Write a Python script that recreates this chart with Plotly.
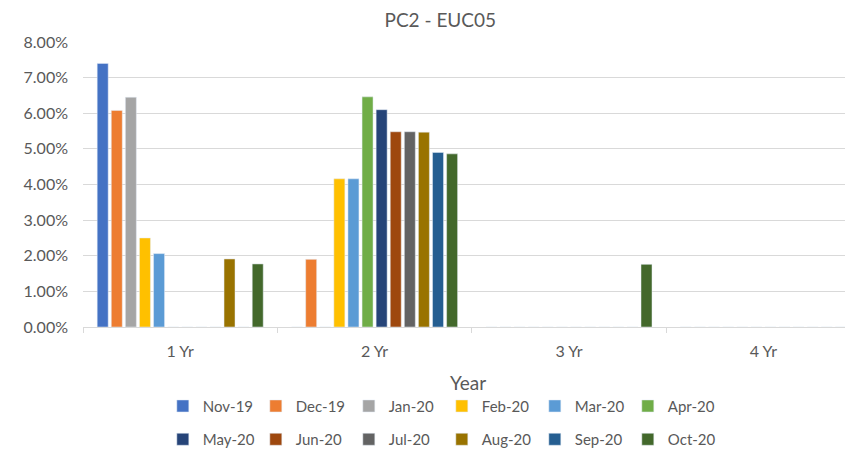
import plotly.graph_objects as go

years = ["1 Yr", "2 Yr", "3 Yr", "4 Yr"]
months = ["Nov-19", "Dec-19", "Jan-20", "Feb-20", "Mar-20", "Apr-20",
          "May-20", "Jun-20", "Jul-20", "Aug-20", "Sep-20", "Oct-20"]

# values per tenor, one per month (fractions)
yr1 = [0.0740, 0.0608, 0.0645, 0.0250, 0.0206, 0, 0, 0, 0, 0.0191, 0, 0.0177]
yr2 = [0, 0.0190, 0, 0.0416, 0.0416, 0.0646, 0.0610, 0.0548, 0.0548, 0.0547, 0.0490, 0.0486]
yr3 = [0, 0, 0, 0, 0, 0, 0, 0, 0, 0, 0, 0.0176]
yr4 = [0, 0, 0, 0, 0, 0, 0, 0, 0, 0, 0, 0]

colors = ["#4472C4", "#ED7D31", "#A5A5A5", "#FFC000", "#5B9BD5", "#70AD47",
          "#264478", "#9E480E", "#636363", "#997300", "#255E91", "#43682B"]

grey = "#595959"
font = "Lato, Calibri, Arial, sans-serif"

fig = go.Figure()
for i, m in enumerate(months):
    fig.add_trace(go.Bar(
        x=years,
        y=[yr1[i], yr2[i], yr3[i], yr4[i]],
        name=m,
        marker_color=colors[i],
        legend="legend" if i < 6 else "legend2",
    ))

legend_style = dict(
    orientation="h",
    xanchor="center",
    yanchor="middle",
    font=dict(size=15, color=grey, family=font),
    entrywidthmode="pixels",
    entrywidth=48,
    itemwidth=30,
    bgcolor="rgba(0,0,0,0)",
)

# the page body adds an 8px offset, so the figure is 8px smaller than the window
fig.update_layout(
    width=845,
    height=448,
    margin=dict(l=75, r=0, t=34, b=126),
    paper_bgcolor="white",
    plot_bgcolor="white",
    font=dict(family=font, color=grey),
    title=dict(text="PC2 - EUC05", x=0.464, xref="paper", xanchor="center",
               y=1 - 12 / 448, yanchor="middle",
               font=dict(size=19, color=grey, family=font)),
    barmode="group",
    bargap=0.13,
    bargroupgap=0.22,
    legend=dict(x=0.466, y=-0.278, **legend_style),
    legend2=dict(x=0.466, y=-0.395, **legend_style),
)

fig.update_xaxes(
    range=[-0.5, 3.461],
    automargin=False,
    showgrid=False,
    showline=True,
    linecolor="#D9D9D9",
    linewidth=1,
    ticks="outside",
    tickson="boundaries",
    ticklen=5,
    tickcolor="#D9D9D9",
    ticklabelstandoff=10,
    tickfont=dict(size=16, color=grey, family=font),
    title=dict(text="Year", standoff=17, font=dict(size=19, color=grey, family=font)),
)
fig.update_yaxes(
    range=[0, 0.08],
    dtick=0.01,
    tickformat=".2%",
    automargin=False,
    showgrid=True,
    gridcolor="#D9D9D9",
    gridwidth=1,
    zeroline=False,
    showline=False,
    ticks="",
    ticklabelstandoff=14,
    tickfont=dict(size=16, color=grey, family=font),
)

fig.write_html("out.html")
